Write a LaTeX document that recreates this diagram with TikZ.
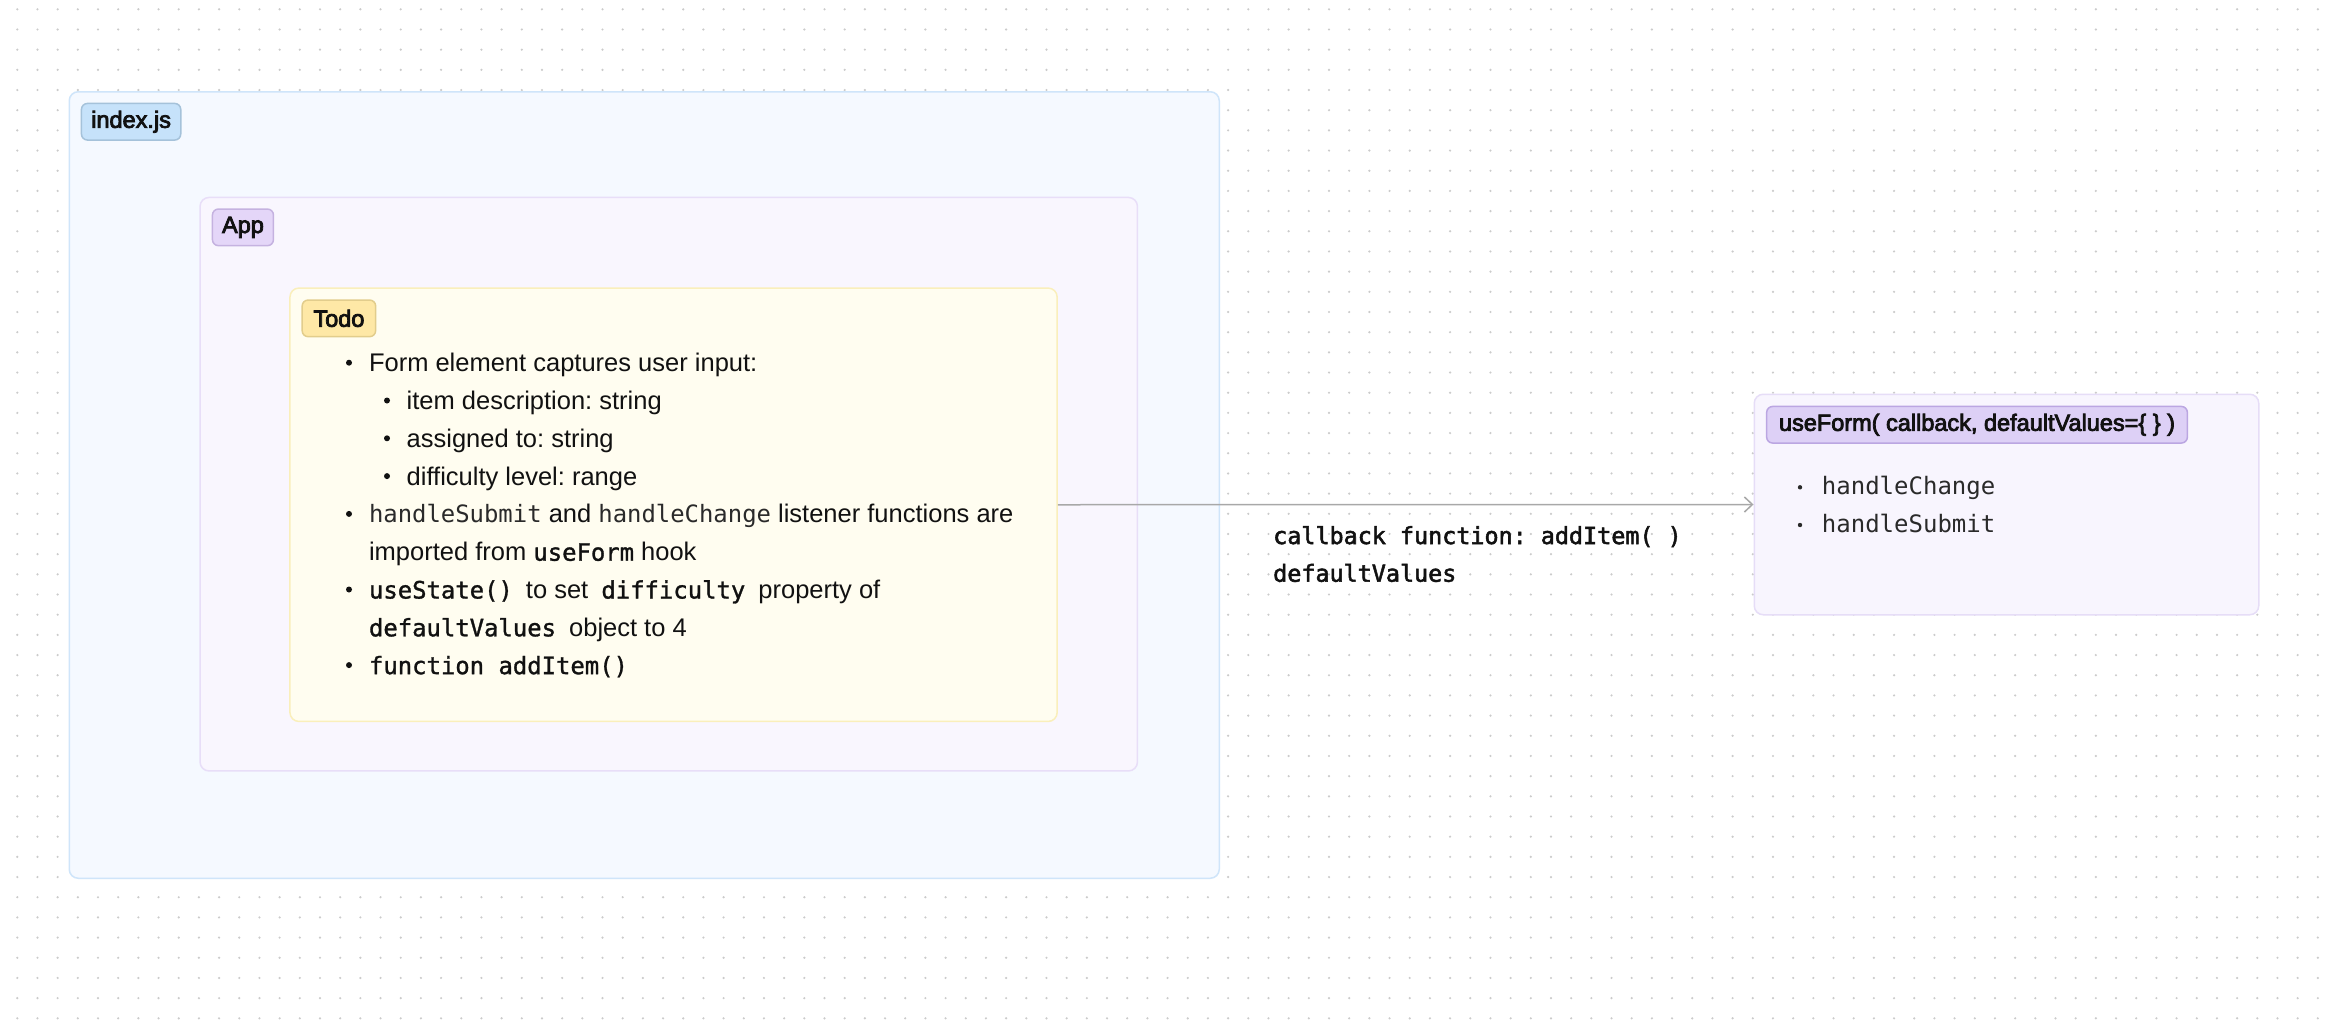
\documentclass[tikz,border=0pt]{standalone}
\usepackage{fontspec}
\setmainfont{Liberation Sans}
\setmonofont{DejaVu Sans Mono}
\newfontfamily\medsans[FakeBold=3.4]{Liberation Sans}
\newfontfamily\medmono[FakeBold=1.3]{DejaVu Sans Mono}
\newfontfamily\semimono[FakeBold=2.2]{DejaVu Sans Mono}
\newfontfamily\regmono{DejaVu Sans Mono}
\usetikzlibrary{arrows.meta}
\definecolor{dotc}{HTML}{CBCBCB}
\definecolor{txt}{HTML}{111111}
\definecolor{codetxt}{HTML}{2A2A2A}
\definecolor{idxfill}{HTML}{F5F9FF}
\definecolor{idxdraw}{HTML}{CFE5FA}
\definecolor{idxlabfill}{HTML}{C6E2FA}
\definecolor{idxlabdraw}{HTML}{A5C2DA}
\definecolor{appfill}{HTML}{F9F6FE}
\definecolor{appdraw}{HTML}{E8DEF8}
\definecolor{applabfill}{HTML}{E4D6F8}
\definecolor{applabdraw}{HTML}{C5B2E0}
\definecolor{todofill}{HTML}{FFFDF0}
\definecolor{tododraw}{HTML}{FAEFBB}
\definecolor{todolabfill}{HTML}{FEE8A6}
\definecolor{todolabdraw}{HTML}{E2CD8C}
\definecolor{uffill}{HTML}{F8F5FE}
\definecolor{ufdraw}{HTML}{E6DDF7}
\definecolor{uflabfill}{HTML}{DDD0F6}
\definecolor{uflabdraw}{HTML}{BBA6E2}
\definecolor{arrowc}{HTML}{A8A8A8}
\newcommand\mycode[1]{{\medmono\fontsize{23.9}{28}\selectfont #1}}
\newcommand\myhs[1]{{\regmono\color{codetxt}\fontsize{23.9}{28}\selectfont #1}}
\newcommand\mylab[1]{{\medsans\fontsize{23.5}{28}\selectfont #1}}
\frenchspacing
\tikzset{
  dotgrid/.style={draw=dotc, line width=2.4pt, line cap=round, dash pattern=on 0pt off 20.18pt},
  box/.style={rounded corners=9pt, line width=1.5pt, anchor=north west, inner sep=0pt},
  lab/.style={rounded corners=6pt, line width=1.5pt, anchor=north west, inner sep=0pt,
     minimum height=36.6pt, text=txt},
  tline/.style={anchor=base west, inner sep=0pt, text=txt, font=\fontsize{25.5}{30}\selectfont\frenchspacing},
  bul/.style={fill=txt},
  elab/.style={anchor=base west, inner sep=0pt, text=txt, font=\semimono\fontsize{23.4}{28}\selectfont\frenchspacing},
  ufline/.style={anchor=base west, inner sep=0pt, text=codetxt, font=\regmono\fontsize{24}{28}\selectfont},
  conn/.style={draw=arrowc, line width=1.5pt, -{Straight Barb[length=8pt,width=15pt,line width=1.5pt]}}
}
\begin{document}
\begin{tikzpicture}[x=1pt,y=-1pt]
\useasboundingbox[fill=white] (0,0) rectangle (2336,1020);
% dotted background
\foreach \r in {0,...,50}{
  \draw[dotgrid] (17.3,{9.3+20.18*\r}) -- (2336,{9.3+20.18*\r});
}
% containers
\node[box, draw=idxdraw, fill=idxfill, minimum width=1150pt, minimum height=786.5pt] (index) at (68.5,91) {};
\node[lab, draw=idxlabdraw, fill=idxlabfill, minimum width=99.3pt] (indexlab) at (80.7,102.7) {\mylab{index.js}};
\node[box, draw=appdraw, fill=appfill, minimum width=937.4pt, minimum height=573.5pt] (app) at (199.3,196.7) {};
\node[lab, draw=applabdraw, fill=applabfill, minimum width=61pt] (applab) at (211.7,208.3) {\mylab{App}};
\node[box, draw=tododraw, fill=todofill, minimum width=767.2pt, minimum height=433.4pt] (todo) at (289.2,287.3) {};
\node[lab, draw=todolabdraw, fill=todolabfill, minimum width=73.5pt] (todolab) at (301.4,299.3) {\mylab{Todo}};
\node[box, draw=ufdraw, fill=uffill, minimum width=504.5pt, minimum height=220.5pt] (uf) at (1753.5,393.5) {};
\node[lab, draw=uflabdraw, fill=uflabfill, minimum width=420.7pt] (uflab) at (1765.9,405.7) {\mylab{useForm( callback, defaultValues=\{ \} )}};
% Todo text
\fill[bul] (349,362.7) circle (3pt);
\node[tline] (t1) at (368.8,371.7) {Form element captures user input:};
\fill[bul] (387,400.5) circle (3pt);
\node[tline] (t2) at (406.5,409.5) {item description: string};
\fill[bul] (387,438.3) circle (3pt);
\node[tline] (t3) at (406.5,447.3) {assigned to: string};
\fill[bul] (387,476.1) circle (3pt);
\node[tline] (t4) at (406.5,485.1) {difficulty level: range};
\fill[bul] (349,513.9) circle (3pt);
\node[tline] (t5) at (368.8,522.9) {\myhs{handleSubmit} and \myhs{handleChange} listener functions are};
\node[tline] (t6) at (368.8,560.7) {imported from \mycode{useForm} hook};
\fill[bul] (349,589.5) circle (3pt);
\node[tline] (t7) at (368.8,598.5) {\mycode{useState()}\hspace{6pt} to set \hspace{6pt}\mycode{difficulty}\hspace{6pt} property of};
\node[tline] (t8) at (368.8,636.3) {\mycode{defaultValues}\hspace{6pt} object to 4};
\fill[bul] (349,665.1) circle (3pt);
\node[tline] (t9) at (368.8,674.1) {\mycode{function addItem()}};
% useForm text
\fill[codetxt] (1800,487.3) circle (2.2pt);
\node[ufline] (u1) at (1821.7,494.3) {handleChange};
\fill[codetxt] (1800,525) circle (2.2pt);
\node[ufline] (u2) at (1821.7,532.7) {handleSubmit};
% connector
\draw[conn] (todo.east) -- (uf.west);
\node[elab] (el1) at (1273,544) {callback function: addItem( )};
\node[elab] (el2) at (1273,581.7) {defaultValues};
\end{tikzpicture}
\end{document}
